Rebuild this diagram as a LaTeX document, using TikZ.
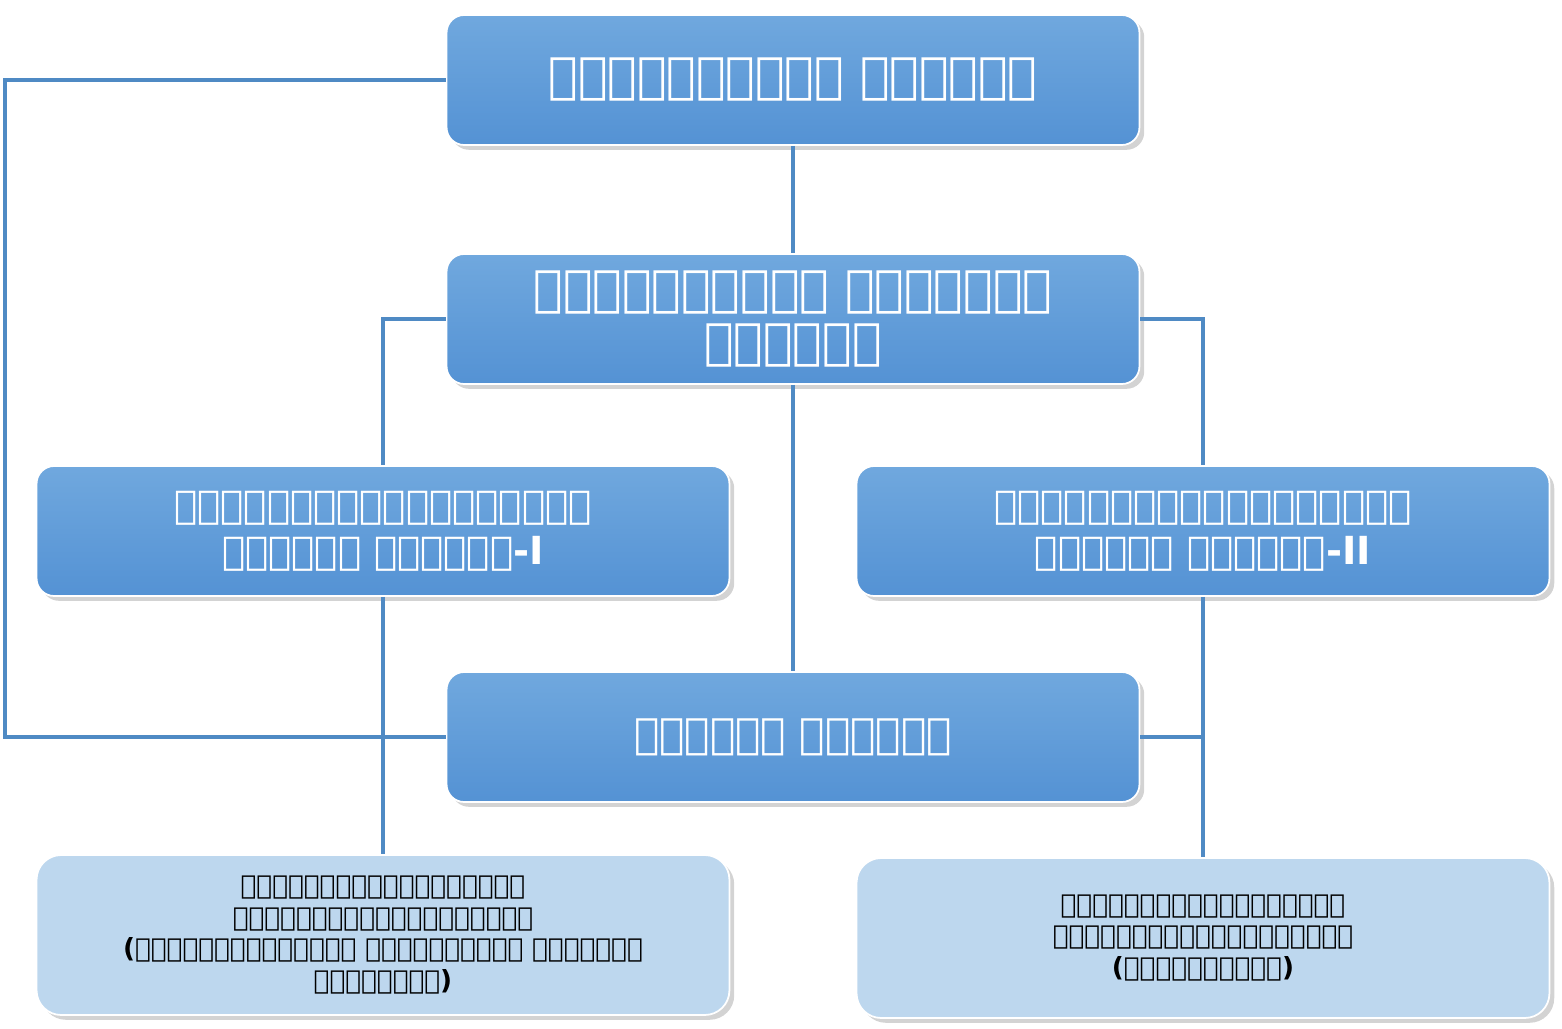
\documentclass[tikz,border=0pt]{standalone}
\usepackage{fontspec}
\setmainfont{DejaVu Sans}
\usetikzlibrary{shadows}
\definecolor{boxblue}{RGB}{84,146,212}
\definecolor{boxtop}{RGB}{112,168,222}
\definecolor{linkblue}{RGB}{79,138,196}
\definecolor{paleblue}{RGB}{189,215,238}
\tikzset{
  headbox/.style={draw=white,line width=1pt,rounded corners=10pt,top color=boxtop,bottom color=boxblue,
    minimum width=13.86cm,minimum height=2.6cm,text width=13cm,align=center,
    text=white,font=\bfseries,drop shadow={opacity=0.35}},
  stafbox/.style={draw=white,line width=1pt,rounded corners=14pt,fill=paleblue,
    minimum width=13.86cm,minimum height=3.2cm,text width=13cm,align=center,
    font=\bfseries\fontsize{15}{18}\selectfont,drop shadow={opacity=0.35}},
  link/.style={draw=linkblue,line width=2.5pt}
}
\begin{document}
\begin{tikzpicture}[x=0.02cm,y=-0.02cm]
\useasboundingbox (0,0) rectangle (1562,1028);
\node[headbox,font=\bfseries\fontsize{28}{32}\selectfont] (head) at (793,80) {நெறிமுறைத் தலைவர்};
\node[headbox,font=\bfseries\fontsize{28}{30}\selectfont] (dep) at (793,319) {நெறிமுறைத் பிரதித்\\ தலைவர்};
\node[headbox,font=\bfseries\fontsize{22}{26}\selectfont] (asst1) at (383,531) {நெறிமுறைப்பிரிவின்\\ உதவித் தலைவர்-I};
\node[headbox,font=\bfseries\fontsize{22}{26}\selectfont] (asst2) at (1203,531) {நெறிமுறைப்பிரிவின்\\ உதவித் தலைவர்-II};
\node[headbox,font=\bfseries\fontsize{24}{28}\selectfont] (branch) at (793,737) {கிளைத் தலைவர்};
\node[stafbox] (staff1) at (383,935) {நெறிமுறைப்பிரிவின்\\ உத்தியோகத்தர்கள்கள்\\ (விடுபாட்டுரிமை விலக்குகள் மற்றும்\\ சலுகைகள்)};
\node[stafbox] (staff2) at (1203,938) {நெறிமுறைப்பிரிவின்\\ உத்தியோகத்தர்கள்கள்\\ (நிகழ்வுகள்)};
\coordinate (lt) at (5,80);
\coordinate (lb) at (5,737);
\draw[link] (head.south) -- (dep.north);
\draw[link] (dep.south) -- (branch.north);
\draw[link] (dep.west) -| (asst1.north);
\draw[link] (dep.east) -| (asst2.north);
\draw[link] (asst1.south) -- (staff1.north);
\draw[link] (asst2.south) -- (staff2.north);
\draw[link] (branch.west) -- (lb) -- (lt) -- (head.west);
\draw[link] (branch.east) -- (asst2.south |- branch.east);
\end{tikzpicture}
\end{document}
